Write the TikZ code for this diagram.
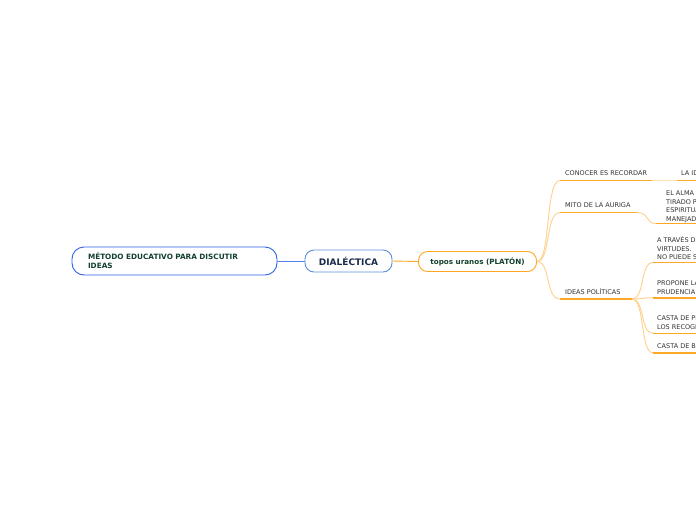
\documentclass[tikz,border=0pt]{standalone}
\usepackage{fontspec}
\setmainfont{DejaVu Sans}
\definecolor{rootblue}{HTML}{2F63E6}
\definecolor{dblue}{HTML}{5B8FD8}
\definecolor{orng}{HTML}{FFA726}
\definecolor{lorng}{HTML}{FFD08A}
\definecolor{pale}{HTML}{FFE3BD}
\definecolor{dgreen}{HTML}{12402C}
\definecolor{navy}{HTML}{1C2A4A}
\definecolor{txt}{HTML}{333333}
\tikzset{
  lbl/.style={anchor=base west, inner sep=0pt, text=txt, font=\fontsize{6.5}{8}\selectfont},
  uline/.style={draw=orng, line width=1.6pt},
  link/.style={draw=lorng, line width=0.9pt},
}
\begin{document}
\begin{tikzpicture}[x=1pt,y=-1pt]
\useasboundingbox (0,0) rectangle (696,520);
\clip (0,0) rectangle (696,520);
\fill[white] (0,0) rectangle (696,520);
% main boxes
\node (root) [draw=rootblue, line width=0.9pt, rounded corners=12pt, fill=white,
  minimum width=205pt, minimum height=28pt, inner xsep=16pt, text width=173pt,
  align=left, text=dgreen, font=\bfseries\fontsize{7.3}{9}\selectfont] at (174.5,261)
  {MÉTODO EDUCATIVO PARA DISCUTIR\\IDEAS};
\node (dia) [draw=dblue, line width=0.9pt, rounded corners=9pt, fill=white,
  minimum width=87pt, minimum height=22pt, inner sep=0pt, text=navy,
  font=\bfseries\fontsize{9}{10}\selectfont] at (348.5,261) {DIALÉCTICA};
\node (topos) [draw=orng, line width=0.9pt, rounded corners=9pt, fill=white,
  minimum width=118pt, minimum height=20pt, inner sep=0pt, text=dgreen,
  font=\bfseries\fontsize{7.2}{9}\selectfont] at (477.5,261.5) {topos uranos (PLATÓN)};
\draw[draw=rootblue!80, line width=0.9pt] (root.east) -- (dia.west);
\draw[draw=orng, line width=0.9pt] (dia.east) -- (topos.west);
% level-2 coordinates
\coordinate (c1a) at (560,180.5); \coordinate (c1b) at (652,180.5);
\coordinate (c2a) at (560,212.5); \coordinate (c2b) at (637,212.5);
\coordinate (c3a) at (560,299);   \coordinate (c3b) at (632,299);
\draw[link] (topos.east) .. controls (551,261.5) and (545,180.5) .. (c1a);
\draw[link] (topos.east) .. controls (551,261.5) and (545,212.5) .. (c2a);
\draw[link] (topos.east) .. controls (551,261.5) and (545,299) .. (c3a);
\draw[uline] (c1a) -- (c1b);
\draw[uline] (c2a) -- (c2b);
\draw[uline] (c3a) -- (c3b);
\node (t1) [lbl] at (565,175.5) {CONOCER ES RECORDAR};
\node (t2) [lbl] at (565,207.5) {MITO DE LA AURIGA};
\node (t3) [lbl] at (565,294.5) {IDEAS POLÍTICAS};
% level-3
\coordinate (d1a) at (677,180.5); \coordinate (d1b) at (700,180.5);
\draw[draw=pale, line width=1.6pt] (c1b) -- (d1a);
\draw[uline] (d1a) -- (d1b);
\node (u1) [lbl] at (681,175.5) {LA IDEA};
\coordinate (d2a) at (656,223.5); \coordinate (d2b) at (700,223.5);
\draw[link] (c2b) .. controls (650,212.5) and (645,223.5) .. (d2a);
\draw[uline] (d2a) -- (d2b);
\node (u2a) [lbl] at (666,195.5) {EL ALMA};
\node (u2b) [lbl] at (666,204.2) {TIRADO POR};
\node (u2c) [lbl] at (666,212.9) {ESPIRITUAL};
\node (u2d) [lbl] at (666,221.4) {MANEJADO};
\coordinate (e1) at (653,262.3); \coordinate (e2) at (653,297.7);
\coordinate (e3) at (653,333.3); \coordinate (e4) at (653,352.8);
\foreach \e in {e1,e2,e3,e4}{
  \draw[link] (c3b) .. controls +(13,0) and +(-13,0) .. (\e);
}
\foreach \e in {e1,e2,e3,e4}{
  \draw[uline] (\e) -- ++(50,0);
}
\node (v1a) [lbl] at (657,242.5) {A TRAVÉS DE};
\node (v1b) [lbl] at (657,251.2) {VIRTUDES.};
\node (v1c) [lbl] at (657,259.9) {NO PUEDE SER};
\node (v2a) [lbl] at (657,285.5) {PROPONE LA};
\node (v2b) [lbl] at (657,294.2) {PRUDENCIA};
\node (v3a) [lbl] at (657,320.5) {CASTA DE PLATA};
\node (v3b) [lbl] at (657,329.2) {LOS RECOGE};
\node (v4a) [lbl] at (657,348.5) {CASTA DE BRONCE};
\end{tikzpicture}
\end{document}
